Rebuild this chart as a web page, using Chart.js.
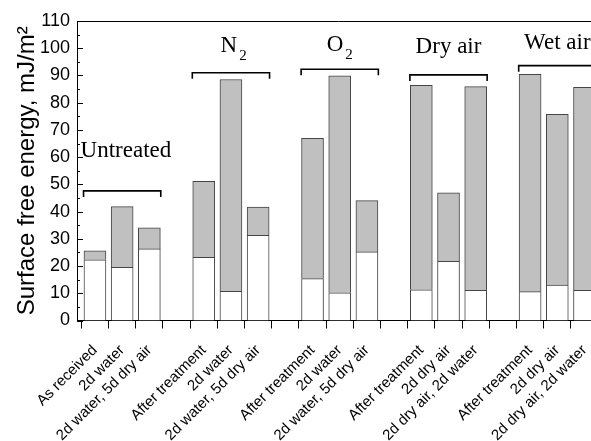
<!DOCTYPE html>
<html>
<head>
<meta charset="utf-8">
<script src="https://cdn.jsdelivr.net/npm/chart.js@4.4.0/dist/chart.umd.min.js"></script>
<style>
  html, body { margin: 0; padding: 0; overflow: hidden; background: #fff; }
</style>
</head>
<body>
<canvas id="energyChart" width="600" height="441"></canvas>
<script>
// x slots: 3 samples per treatment, an empty slot between groups
const labels = [
  'As received', '2d water', '2d water, 5d dry air', '',
  'After treatment', '2d water', '2d water, 5d dry air', '',
  'After treatment', '2d water', '2d water, 5d dry air', '',
  'After treatment', '2d dry air', '2d dry air, 2d water', '',
  'After treatment', '2d dry air', '2d dry air, 2d water'
];
// lower (white) part and upper (grey) part of each bar, mJ/m2
const dispersive = [22.3, 19.5, 26.3, null, 23.2, 10.7, 31.3, null, 15.4, 10.2, 25.2, null, 11.3, 21.7, 11.1, null, 10.6, 13.0, 11.1];
const polar = [3.3, 22.3, 7.7, null, 27.9, 77.8, 10.4, null, 51.5, 79.7, 18.8, null, 75.1, 25.2, 74.8, null, 79.8, 62.7, 74.5];

// treatment groups: name, subscript, first and last slot
const groupNames = ['Untreated', 'N', 'O', 'Dry air', 'Wet air'];
const groupSubs = ['', '2', '2', '', ''];
const groupFirst = [0, 4, 8, 12, 16];
const groupLast = [2, 6, 10, 14, 18];
// where the brackets and names sit (data units)
const bracketY = [47.6, 91.0, 92.3, 90.2, 93.6];
const nameX = [1.14, 5.1, 9.0, 13.0, 17.0];
const nameY = [60.0, 98.6, 98.8, 98.1, 99.6];

const toPoints = arr => arr.map((v, i) => ({ x: i, y: v })).filter(p => p.y !== null);

const groupPlugin = {
  id: 'groups',
  afterDraw(chart) {
    const { ctx, chartArea, scales } = chart;
    const x = scales.x, y = scales.y;
    ctx.save();
    // frame top
    ctx.strokeStyle = '#000';
    ctx.lineWidth = 1;
    ctx.beginPath();
    ctx.moveTo(chartArea.left, chartArea.top + 0.5);
    ctx.lineTo(chartArea.right, chartArea.top + 0.5);
    ctx.stroke();
    // inward y ticks
    for (let v = 0; v <= 110; v += 5) {
      const py = Math.round(y.getPixelForValue(v)) + 0.5;
      ctx.beginPath();
      ctx.moveTo(chartArea.left, py);
      ctx.lineTo(chartArea.left + (v % 10 === 0 ? 6 : 3), py);
      ctx.stroke();
    }
    // brackets
    ctx.lineWidth = 1.6;
    groupNames.forEach((name, g) => {
      const x0 = x.getPixelForValue(groupFirst[g] - 0.42);
      const x1 = x.getPixelForValue(groupLast[g] + 0.42);
      const by = y.getPixelForValue(bracketY[g]);
      ctx.beginPath();
      ctx.moveTo(x0, by + 6);
      ctx.lineTo(x0, by);
      ctx.lineTo(x1, by);
      ctx.lineTo(x1, by + 6);
      ctx.stroke();
    });
    // group names
    ctx.fillStyle = '#000';
    ctx.textBaseline = 'alphabetic';
    groupNames.forEach((name, g) => {
      ctx.font = '23px "Liberation Serif", "Times New Roman", serif';
      const w = ctx.measureText(name).width;
      ctx.font = '15px "Liberation Serif", "Times New Roman", serif';
      const ws = groupSubs[g] ? ctx.measureText(groupSubs[g]).width + 2 : 0;
      const cx = x.getPixelForValue(nameX[g]);
      const py = y.getPixelForValue(nameY[g]);
      const left = cx - (w + ws) / 2;
      ctx.font = '23px "Liberation Serif", "Times New Roman", serif';
      ctx.textAlign = 'left';
      ctx.fillText(name, left, py);
      if (groupSubs[g]) {
        ctx.font = '15px "Liberation Serif", "Times New Roman", serif';
        ctx.fillText(groupSubs[g], left + w + 2, py + 8);
      }
    });
    ctx.restore();
  }
};

const ctx = document.getElementById('energyChart').getContext('2d');
new Chart(ctx, {
  type: 'bar',
  data: {
    datasets: [
      {
        label: 'Dispersive',
        data: toPoints(dispersive),
        backgroundColor: '#ffffff',
        borderColor: '#444',
        borderWidth: 1,
        barThickness: 22
      },
      {
        label: 'Polar',
        data: toPoints(polar),
        backgroundColor: '#c0c0c0',
        borderColor: '#444',
        borderWidth: 1,
        barThickness: 22
      }
    ]
  },
  options: {
    responsive: false,
    animation: false,
    layout: { padding: { top: 21, right: 0, left: 0, bottom: 0 } },
    plugins: {
      legend: { display: false },
      tooltip: { enabled: false }
    },
    scales: {
      x: {
        type: 'linear',
        stacked: true,
        offset: false,
        min: -0.66,
        max: 18.57,
        afterBuildTicks: s => { s.ticks = labels.map((_, i) => ({ value: i })); },
        afterFit: s => { s.height = 120.5; s.paddingLeft = 0; s.paddingRight = 0; },
        grid: { drawOnChartArea: false, tickLength: 8, color: '#000', lineWidth: 1 },
        border: { display: true, color: '#000', width: 1 },
        ticks: {
          autoSkip: false,
          minRotation: 45,
          maxRotation: 45,
          padding: 13,
          color: '#000',
          font: { family: '"Liberation Sans", Arial, sans-serif', size: 15 },
          callback: v => labels[v] || ''
        }
      },
      y: {
        stacked: true,
        min: 0,
        max: 110,
        afterFit: s => { s.width = 77; },
        grid: { display: false, drawTicks: false },
        border: { display: true, color: '#000', width: 1 },
        ticks: {
          stepSize: 10,
          padding: 7,
          color: '#000',
          font: { family: '"Liberation Sans", Arial, sans-serif', size: 18 }
        },
        title: {
          display: true,
          text: 'Surface free energy, mJ/m²',
          color: '#000',
          padding: { top: 13, bottom: 0 },
          font: { family: '"Liberation Sans", Arial, sans-serif', size: 24 }
        }
      }
    }
  },
  plugins: [groupPlugin]
});
</script>
</body>
</html>
